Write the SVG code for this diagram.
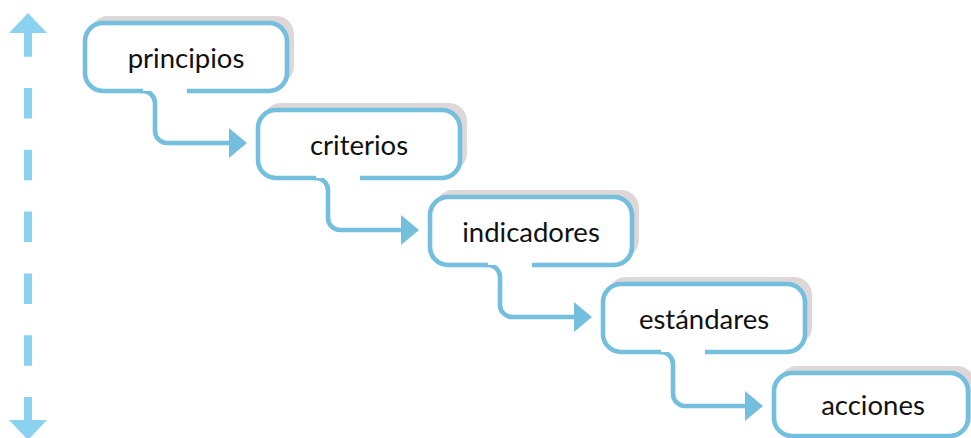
<svg xmlns="http://www.w3.org/2000/svg" width="971" height="438" viewBox="0 0 971 438">
<defs>
<style>
.shadow{fill:#ddd7d7;}
.bg{fill:#ffffff;}
.outline{fill:none;stroke:#74bfdd;stroke-width:4.6;stroke-linecap:butt;stroke-linejoin:round;}
.conn{fill:none;stroke:#74bfdd;stroke-width:4.6;}
.head{fill:#74bfdd;}
.axis{stroke:#8bd1f0;stroke-width:8;stroke-dasharray:30.5 31.3;stroke-dashoffset:6.8;fill:none;}
.axishead{fill:#8bd1f0;}
.label{font-family:Lato,"Open Sans","Liberation Sans",sans-serif;font-size:27.5px;fill:#111111;text-anchor:middle;}
</style>
</defs>
<rect width="971" height="438" fill="#ffffff"/>
<g id="axis">
<line class="axis" x1="28" y1="33" x2="28" y2="420"/>
<polygon class="axishead" points="28,13 47,33 9,33"/>
<polygon class="axishead" points="9,420 47,420 28,440"/>
</g>
<g id="connectors">
<path class="conn" d="M140,91 H143 A12 12 0 0 1 155,103 V131 A12 12 0 0 0 167,143 H230"/>
<polygon class="head" points="229,128 247,143 229,158"/>
<path class="conn" d="M313,178 H316 A12 12 0 0 1 328,190 V218 A12 12 0 0 0 340,230 H402"/>
<polygon class="head" points="401,215 419,230 401,245"/>
<path class="conn" d="M485,265 H488 A12 12 0 0 1 500,277 V305 A12 12 0 0 0 512,317 H575"/>
<polygon class="head" points="574,302 592,317 574,332"/>
<path class="conn" d="M658,352 H661 A12 12 0 0 1 673,364 V394 A12 12 0 0 0 685,406 H746"/>
<polygon class="head" points="745,391 763,406 745,421"/>
</g>
<g id="node-principios">
<rect class="shadow" x="90" y="16" width="204" height="68" rx="18"/>
<rect class="bg" x="85" y="23" width="202" height="68" rx="18"/>
<path class="outline" d="M187,91 H269 A18 18 0 0 0 287,73 V41 A18 18 0 0 0 269,23 H103 A18 18 0 0 0 85,41 V73 A18 18 0 0 0 103,91 H143"/>
<text class="label" x="186" y="68">principios</text>
</g>
<g id="node-criterios">
<rect class="shadow" x="263" y="103" width="204" height="68" rx="18"/>
<rect class="bg" x="258" y="110" width="202" height="68" rx="18"/>
<path class="outline" d="M360,178 H442 A18 18 0 0 0 460,160 V128 A18 18 0 0 0 442,110 H276 A18 18 0 0 0 258,128 V160 A18 18 0 0 0 276,178 H316"/>
<text class="label" x="359" y="155">criterios</text>
</g>
<g id="node-indicadores">
<rect class="shadow" x="435" y="190" width="204" height="68" rx="18"/>
<rect class="bg" x="430" y="197" width="202" height="68" rx="18"/>
<path class="outline" d="M532,265 H614 A18 18 0 0 0 632,247 V215 A18 18 0 0 0 614,197 H448 A18 18 0 0 0 430,215 V247 A18 18 0 0 0 448,265 H488"/>
<text class="label" x="531" y="242">indicadores</text>
</g>
<g id="node-estandares">
<rect class="shadow" x="608" y="277" width="204" height="68" rx="18"/>
<rect class="bg" x="603" y="284" width="202" height="68" rx="18"/>
<path class="outline" d="M705,352 H787 A18 18 0 0 0 805,334 V302 A18 18 0 0 0 787,284 H621 A18 18 0 0 0 603,302 V334 A18 18 0 0 0 621,352 H661"/>
<text class="label" x="704" y="329">estándares</text>
</g>
<g id="node-acciones">
<rect class="shadow" x="779" y="366" width="196" height="63" rx="18"/>
<rect class="bg" x="774" y="373" width="194" height="63" rx="18"/>
<rect class="outline" x="774" y="373" width="194" height="63" rx="18"/>
<text class="label" x="873" y="415">acciones</text>
</g>
</svg>
